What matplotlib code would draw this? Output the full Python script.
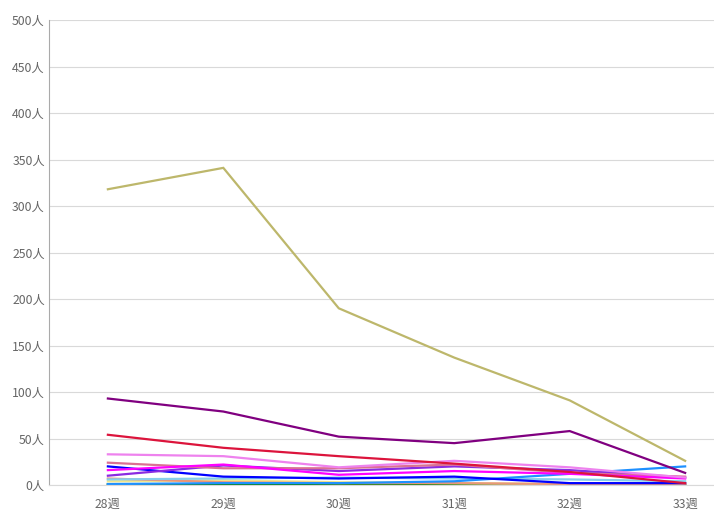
import matplotlib
matplotlib.use("Agg")
import matplotlib.pyplot as plt
import numpy as np

plt.rcParams['font.family'] = ['Noto Sans CJK SC', 'DejaVu Sans']

weeks = ['28週', '29週', '30週', '31週', '32週', '33週']

# one list per line, values in 人
khaki_dark = [318, 341, 190, 137, 91, 26]
purple = [93, 79, 52, 45, 58, 13]
crimson = [54, 40, 31, 23, 14, 2]
violet = [33, 31, 19, 26, 19, 8]
pale_red = [24, 18, 18, 22, 13, 9]
magenta = [16, 22, 11, 15, 12, 7]
blue_violet = [10, 21, 15, 20, 16, 8]
blue = [20, 9, 7, 9, 2, 2]
sky = [6, 7, 8, 7, 6, 4]
salmon = [7, 3, 2, 2, 1, 1]
khaki = [4, 5, 3, 2, 1, 1]
dodger = [1, 2, 2, 4, 12, 20]
green = [1, 1, 1, 1, 0, 0]
gray = [0, 0, 0, 1, 1, 0]

series = [
    (gray, '#808080'),
    (green, '#008000'),
    (khaki, '#F0E68C'),
    (salmon, '#E9967A'),
    (sky, '#87CEEB'),
    (dodger, '#1E90FF'),
    (blue, '#0000FF'),
    (blue_violet, '#8A2BE2'),
    (pale_red, '#DB7093'),
    (magenta, '#FF00FF'),
    (violet, '#EE82EE'),
    (crimson, '#DC143C'),
    (purple, '#800080'),
    (khaki_dark, '#BDB76B'),
]

fig = plt.figure(figsize=(7.14, 5.26), dpi=100)
ax = fig.add_axes([49 / 714, 41 / 526, 665 / 714, 465 / 526])

x = np.arange(len(weeks))
for vals, col in series:
    ax.plot(x, vals, color=col, lw=1.6, solid_joinstyle='miter')

ax.set_xlim(-0.51, 5.25)
ax.set_ylim(0, 500)
ax.set_yticks(range(0, 501, 50))
ax.set_yticklabels([f'{v}人' for v in range(0, 501, 50)])
ax.set_xticks(x)
ax.set_xticklabels(weeks)
ax.grid(axis='y', color='#d9d9d9', lw=0.8)
ax.set_axisbelow(True)
for s in ['top', 'right']:
    ax.spines[s].set_visible(False)
ax.spines['left'].set_color('#aaaaaa')
ax.spines['bottom'].set_color('#d9d9d9')
ax.tick_params(length=0, labelsize=8.8, colors='#666666', pad=3)
ax.tick_params(axis='x', pad=9)

fig.savefig('out.png', dpi=100)
